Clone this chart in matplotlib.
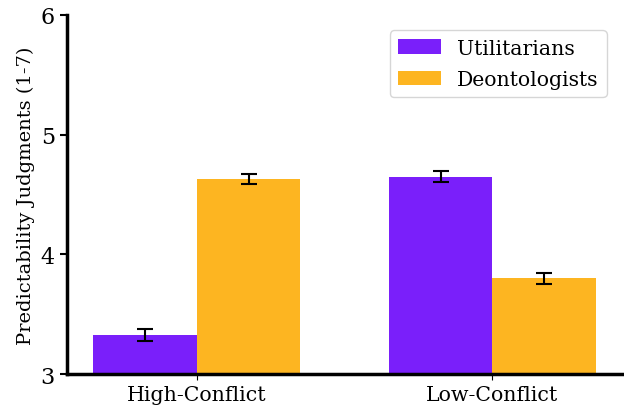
import numpy as np
import matplotlib.pyplot as plt

plt.rcParams['font.family'] = 'DejaVu Serif'

conditions = ['High-Conflict', 'Low-Conflict']
groups = ['Utilitarians', 'Deontologists']
means = {
    'Utilitarians': [3.33, 4.65],
    'Deontologists': [4.63, 3.80],
}
errors = {
    'Utilitarians': [0.05, 0.045],
    'Deontologists': [0.045, 0.045],
}
colors = {'Utilitarians': '#7A1FFA', 'Deontologists': '#FDB521'}

x = np.arange(len(conditions))
width = 0.35

fig = plt.figure(figsize=(6.24, 4.06), dpi=100)
ax = fig.add_axes([0.107, 0.076, 0.893, 0.885])

for i, g in enumerate(groups):
    offset = (i - 0.5) * width
    ax.bar(x + offset, means[g], width, yerr=errors[g], color=colors[g],
           label=g, capsize=6, error_kw={'elinewidth': 1.5, 'capthick': 1.5})

ax.set_xticks(x)
ax.set_xticklabels(conditions, fontsize=14.8)
ax.set_ylim(3, 6)
ax.set_xlim(-0.44, 1.445)
ax.set_yticks([3, 4, 5, 6])
ax.tick_params(axis='y', labelsize=16, width=1.5, length=5)
ax.tick_params(axis='x', length=4)
ax.set_ylabel('Predictability Judgments (1-7)', fontsize=14)

ax.spines['top'].set_visible(False)
ax.spines['right'].set_visible(False)
ax.spines['left'].set_linewidth(2.5)
ax.spines['bottom'].set_linewidth(2.5)

ax.legend(fontsize=14.7, loc='upper right', bbox_to_anchor=(0.987, 0.985),
          labelspacing=0.6, handlelength=2.1)

fig.savefig('out.png', dpi=100)
